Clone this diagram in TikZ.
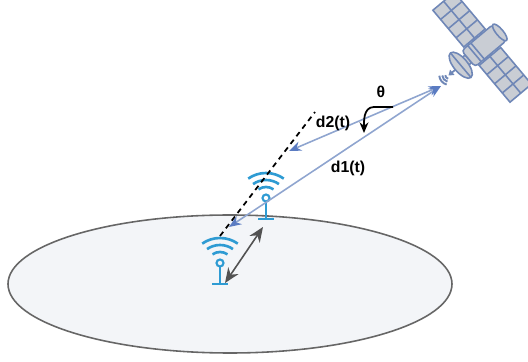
\documentclass[tikz,border=0pt]{standalone}
\usepackage{fontspec}
\setmainfont{Liberation Sans}
\usetikzlibrary{arrows.meta, positioning}

\definecolor{sigblue}{HTML}{8FA5CF}
\definecolor{tipblue}{HTML}{5B7CC2}
\definecolor{wifiblue}{HTML}{2E9BD3}
\definecolor{satfill}{HTML}{C9CDD4}
\definecolor{satedge}{HTML}{6F87B7}
\definecolor{groundfill}{HTML}{F3F5F8}

\tikzset{
  wifiarc/.style={wifiblue, line width=1.5pt},
  % receiver icon, origin at the antenna ball
  wifi/.pic={
    \draw[wifiarc] (0,-6) ++(55:31) arc[start angle=55, end angle=125, radius=31];
    \draw[wifiarc] (0,-4.6) ++(55:22.6) arc[start angle=55, end angle=125, radius=22.6];
    \draw[wifiarc] (0,-2) ++(55:13) arc[start angle=55, end angle=125, radius=13];
    \draw[wifiblue, line width=1.2pt] (0,0) circle[radius=3.5];
    \draw[wifiblue, line width=1.2pt] (0,-3.5) -- (0,-21);
    \draw[wifiarc] (-8,-21) -- (8,-21);
    \coordinate (-base) at (0,-21);
  }
}

\begin{document}
\begin{tikzpicture}[x=0.02cm, y=0.02cm,
  sigline/.style={sigblue, line width=0.9pt,
    arrows={Stealth[length=7pt, width=5.5pt, color=tipblue]-Stealth[length=7pt, width=5.5pt, color=tipblue]}},
  gaparrow/.style={black!68, line width=0.9pt,
    arrows={Stealth[length=8.5pt, width=7pt]-Stealth[length=8.5pt, width=7pt]}},
  angarrow/.style={black, line width=1pt, -{Stealth[length=6pt, width=5pt]}},
  satpart/.style={draw=satedge, fill=satfill, line width=0.9pt},
  lab/.style={font=\fontsize{9}{11}\selectfont\bfseries}]
  \useasboundingbox (0,0) rectangle (528,362);

  % ground
  \draw[black!60, fill=groundfill, line width=0.9pt] (230,78) ellipse[x radius=222, y radius=69];

  % satellite
  \begin{scope}[shift={(486,318)}, rotate=40]
    \draw[satpart] (-8,-14) rectangle (-2,14);
    \foreach \s in {1,-1} {
      \draw[satpart] (-19,12*\s) rectangle (9,60*\s);
      \draw[satedge, line width=0.9pt] (-5,12*\s) -- (-5,60*\s);
      \foreach \r in {24,36,48}
        \draw[satedge, line width=0.9pt] (-19,\r*\s) -- (9,\r*\s);
    }
    \draw[satpart] (-29,-5) rectangle (-23,5);
    \draw[satpart, rounded corners=2] (-23,-10.5) rectangle (18,10.5);
    \draw[satpart] (18,0) ellipse[x radius=3.5, y radius=10.5];
    \draw[satedge, line width=0.9pt] (-15,-10.5) -- (-15,10.5) (-11,-10.5) -- (-11,10.5);
    \draw[satpart] (-33,0) ellipse[x radius=7, y radius=16];
    \draw[satedge, line width=0.9pt] (-33,-16) -- (-33,16);
    \draw[satedge, line width=1pt] (-40,0) -- (-47,0);
    \fill[satedge] (-49,0) -- (-44,3.5) -- (-44,-3.5) -- cycle;
    \foreach \r in {4,7,10}
      \draw[satedge, line width=1.1pt] (-48,0) ++(145:\r) arc[start angle=145, end angle=215, radius=\r];
  \end{scope}

  % receivers
  \pic (rxa) at (266,164) {wifi};
  \pic (rxb) at (220,99) {wifi};

  \coordinate (sat) at (441,276);
  \coordinate (d1end) at (229,135);
  \coordinate (d2end) at (289,211);
  \coordinate (dashtop) at (315,250);
  \coordinate (dashbot) at (220,126);
  \coordinate (gapa) at (263,135);
  \coordinate (gapb) at (225,79);
  \coordinate (th1) at (393,255);
  \coordinate (th2) at (364,229);

  \draw[black, line width=1pt, dash pattern=on 3pt off 2.5pt] (dashbot) -- (dashtop);
  \draw[sigline] (sat) -- (d1end);
  \draw[sigline] (sat) -- (d2end);
  \draw[gaparrow] (gapb) -- (gapa);
  \draw[angarrow] (th1) -- (374,255) to[out=180, in=90] (th2);

  \node[lab] (theta) at (381,270) {θ};
  \node[lab] (d2lab) at (333,239) {d2(t)};
  \node[lab] (d1lab) at (348,194) {d1(t)};
\end{tikzpicture}
\end{document}
